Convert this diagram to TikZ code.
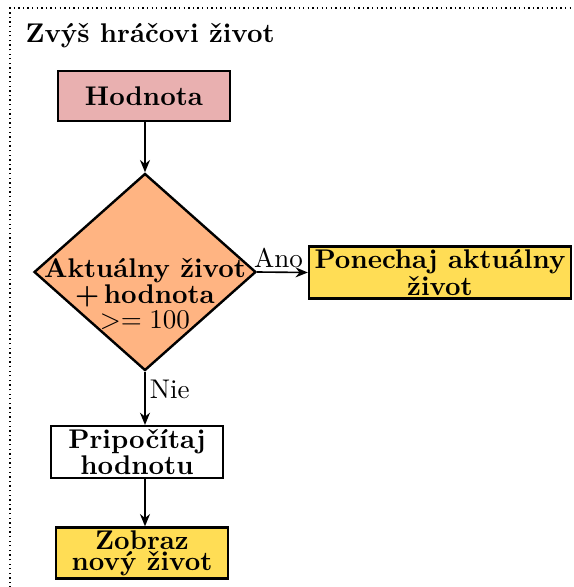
\documentclass[tikz,border=0pt]{standalone}
\usepackage{tikz}
\usetikzlibrary{shapes.geometric, arrows.meta}
\definecolor{valpink}{RGB}{233,176,176}
\definecolor{condorange}{RGB}{255,180,130}
\definecolor{outyellow}{RGB}{255,221,85}
\begin{document}
\begin{tikzpicture}[x=0.37pt, y=-0.37pt,
    box/.style={draw=black, line width=0.9pt, minimum width=63.6pt, minimum height=18.5pt, inner sep=1pt, align=center, font=\fontsize{10}{7.9}\selectfont\bfseries},
    flow/.style={semithick, -{Stealth[length=1.6mm, width=1.3mm]}}]
    \useasboundingbox (0,0) rectangle (574,587);

    % Frame and title
    \draw[line width=0.5pt, dash pattern=on 0.5pt off 1.2pt] (10,620) -- (10,8) -- (620,8);
    \node[anchor=base west, font=\bfseries, inner sep=0pt] (title) at (25,42) {Zvýš hráčovi život};

    % Blocks
    \node[box, fill=valpink] (value) at (144,96) {Hodnota};
    \node[diamond, draw=black, line width=0.9pt, fill=condorange, minimum width=82.1pt, minimum height=72.9pt, inner sep=0pt] (cond) at (145,272) {};
    \node[align=center, font=\fontsize{10}{9.4}\selectfont\bfseries, inner sep=0pt] (condtext) at (145,294) {Aktuálny život\\+\,hodnota\\{\mdseries $>= 100$}};
    \node[box, fill=outyellow, minimum width=96.9pt, minimum height=18.1pt] (keep) at (440,272.5) {Ponechaj aktuálny\\život};
    \node[box, fill=white] (add) at (137,452) {Pripočítaj\\hodnotu};
    \node[box, fill=outyellow] (show) at (142,553) {Zobraz\\nový život};

    % Connectors
    \draw[flow] (value.south -| cond) -- (cond.north);
    \draw[flow] (cond.east) -- node[pos=0.42, above, inner sep=1.5pt] (yes) {Ano} (keep.west);
    \draw[flow] (cond.south) -- node[pos=0.34, right, inner sep=1.5pt] (no) {Nie} (cond.south |- add.north);
    \draw[flow] (add.south -| cond) -- (show.north -| cond);
\end{tikzpicture}
\end{document}
